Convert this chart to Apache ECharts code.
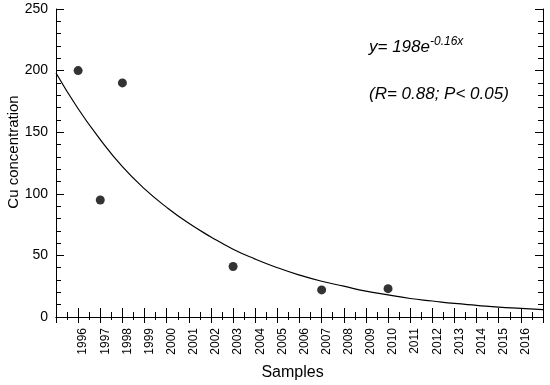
<!DOCTYPE html>
<html>
<head>
<meta charset="utf-8">
<script src="https://cdn.jsdelivr.net/npm/echarts@6/dist/echarts.min.js"></script>
<style>html,body{margin:0;padding:0;background:#fff}#c{width:550px;height:385px}</style>
</head>
<body>
<div id="c"></div>
<script>
// Observed samples
const sampleYears = [1996, 1997, 1998, 2003, 2007, 2010];
const cuValues = [200, 95, 190, 41, 22, 23];
// Fitted curve
const fitYears = [1995, 1996, 1997, 1998, 1999, 2000, 2001, 2002, 2003, 2004, 2005, 2006, 2007, 2008, 2009, 2010, 2011, 2012, 2013, 2014, 2015, 2016, 2017];
const fitValues = [198, 169, 144, 122, 104, 89, 76, 65, 55, 47, 40, 34, 29, 25, 21, 18, 15, 13, 11, 9.5, 8, 7, 6];
const yTicks = [0, 50, 100, 150, 200, 250];

const chart = echarts.init(document.getElementById('c'));
const font = 'Liberation Sans, Arial, sans-serif';
const axisLine = {show: true, lineStyle: {color: '#000', width: 1}};
chart.setOption({
  animation: false,
  backgroundColor: '#fff',
  grid: {left: 56, right: 7, top: 9, bottom: 68, containLabel: false, outerBoundsMode: 'none'},
  xAxis: [{
    type: 'value', min: 1995, max: 2017, interval: 1,
    axisLine: axisLine,
    axisTick: {inside: true, length: 9, lineStyle: {color: '#000'}},
    minorTick: {show: true, splitNumber: 2, length: 5, lineStyle: {color: '#000'}},
    splitLine: {show: false},
    axisLabel: {rotate: 90, margin: 11, fontSize: 12, color: '#000', fontFamily: font,
      verticalAlign: 'top', lineHeight: 10,
      showMinLabel: false, showMaxLabel: false, formatter: v => String(v)},
    name: 'Samples', nameLocation: 'middle', nameGap: 48, nameMoveOverlap: false,
    nameTextStyle: {fontSize: 16, color: '#000', fontFamily: font, padding: [0, 14, 0, 0]}
  }, {
    type: 'value', min: 1995, max: 2017, interval: 1, position: 'top',
    axisLine: axisLine,
    axisTick: {inside: true, length: 6, lineStyle: {color: '#000'}},
    minorTick: {show: true, splitNumber: 2, length: 3, lineStyle: {color: '#000'}},
    splitLine: {show: false}, axisLabel: {show: false}
  }],
  yAxis: [{
    type: 'value', min: 0, max: 250, interval: 50,
    axisLine: axisLine,
    axisTick: {inside: true, length: 8, lineStyle: {color: '#000'}},
    minorTick: {show: true, splitNumber: 5, length: 5, lineStyle: {color: '#000'}},
    splitLine: {show: false},
    axisLabel: {margin: 8, fontSize: 14, color: '#000', fontFamily: font,
      formatter: v => yTicks.includes(v) ? String(v) : ''},
    name: 'Cu concentration', nameLocation: 'middle', nameGap: 35, nameMoveOverlap: false,
    nameTextStyle: {fontSize: 15, color: '#000', fontFamily: font, padding: [0, 0, 0, 22]}
  }, {
    type: 'value', min: 0, max: 250, interval: 50, position: 'right',
    axisLine: axisLine,
    axisTick: {inside: true, length: 8, lineStyle: {color: '#000'}},
    minorTick: {show: true, splitNumber: 5, length: 5, lineStyle: {color: '#000'}},
    splitLine: {show: false}, axisLabel: {show: false}
  }],
  series: [{
    type: 'line', smooth: true, showSymbol: false, symbol: 'none',
    data: fitYears.map((y, i) => [y, fitValues[i]]),
    lineStyle: {color: '#000', width: 1.2}, z: 2
  }, {
    type: 'scatter', symbol: 'circle', symbolSize: 9,
    data: sampleYears.map((y, i) => [y, cuValues[i]]),
    itemStyle: {color: '#000'}, z: 3
  }],
  graphic: [{
    type: 'text', left: 369, top: 36,
    style: {
      text: '{a|y= 198e}{b|-0.16x}',
      rich: {
        a: {fontSize: 17, fontStyle: 'italic', fontFamily: font, fill: '#000', verticalAlign: 'bottom', lineHeight: 20},
        b: {fontSize: 12, fontStyle: 'italic', fontFamily: font, fill: '#000', verticalAlign: 'top', lineHeight: 20, padding: [0, 0, 9, 0]}
      }
    }
  }, {
    type: 'text', left: 369, top: 86,
    style: {text: '(R= 0.88; P< 0.05)', fontSize: 17, fontStyle: 'italic', fontFamily: font, fill: '#000'}
  }]
});
</script>
</body>
</html>
